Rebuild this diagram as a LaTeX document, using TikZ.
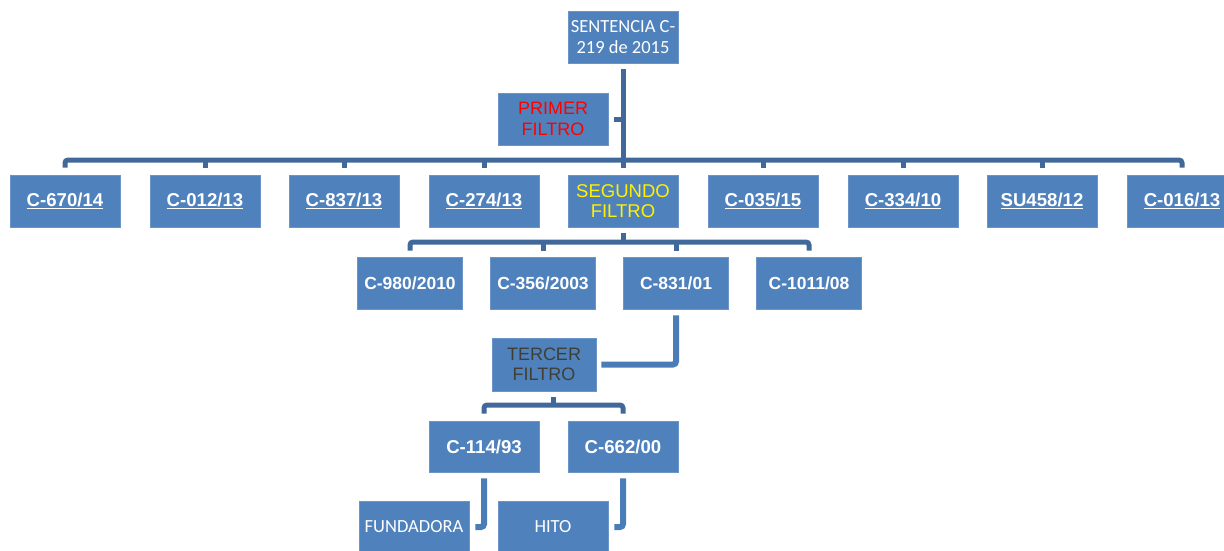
\documentclass[tikz,border=0pt]{standalone}
\usepackage{fontspec}
\setmainfont{Liberation Sans}
\newfontfamily\calib{Carlito}
\usetikzlibrary{calc}
\definecolor{boxfill}{HTML}{4F81BD}
\definecolor{boxline}{HTML}{6B95C8}
\definecolor{barcol}{HTML}{41689A}
\definecolor{elbowcol}{HTML}{4A7CB8}
\definecolor{tercercol}{HTML}{3F3F36}
\newcommand\myul[1]{\setbox0\hbox{#1}\rlap{\rule[-2.8pt]{\wd0}{1.4pt}}\box0}
\tikzset{
  box/.style={rectangle, fill=boxfill, draw=boxline, line width=0.6pt,
    minimum width=110pt, minimum height=52pt, inner sep=0pt, align=center,
    text=white, font=\fontsize{18}{20.5}\selectfont},
  boxn/.style={box, minimum width=105pt, font=\fontsize{17.5}{20}\selectfont\bfseries},
  code/.style={font=\fontsize{18.6}{20.5}\selectfont\bfseries},
  bar/.style={draw=barcol, line width=5pt},
  elbow/.style={draw=elbowcol, line width=6pt, rounded corners=3pt}
}
\begin{document}
\begin{tikzpicture}[x=1pt,y=-1pt]
\useasboundingbox (0,0) rectangle (1224,550);
% nodes
\node[box, font=\calib\fontsize{18.5}{20.5}\selectfont] (top) at (623,37) {SENTENCIA C-\\219 de 2015};
\node[box, text=red] (primer) at (553,119) {PRIMER\\FILTRO};
\node[box, code] (c1) at (65,201) {\myul{C-670/14}};
\node[box, code] (c2) at (205,201) {\myul{C-012/13}};
\node[box, code] (c3) at (344,201) {\myul{C-837/13}};
\node[box, code] (c4) at (484,201) {\myul{C-274/13}};
\node[box, text=yellow, font=\fontsize{18.5}{20.5}\selectfont] (seg) at (623,201) {SEGUNDO\\FILTRO};
\node[box, code] (c6) at (763,201) {\myul{C-035/15}};
\node[box, code] (c7) at (903,201) {\myul{C-334/10}};
\node[box, code] (c8) at (1042,201) {\myul{SU458/12}};
\node[box, code] (c9) at (1182,201) {\myul{C-016/13}};
\node[boxn] (d1) at (410,283) {C-980/2010};
\node[boxn] (d2) at (543,283) {C-356/2003};
\node[boxn] (d3) at (676,283) {C-831/01};
\node[boxn] (d4) at (809,283) {C-1011/08};
\node[box, minimum width=104pt, minimum height=53pt, text=tercercol] (tercer) at (544,364.5) {TERCER\\FILTRO};
\node[box, code, minimum height=51pt] (e1) at (484,446.5) {C-114/93};
\node[box, code, minimum height=51pt] (e2) at (623,446.5) {C-662/00};
\node[box, font=\calib\fontsize{18.5}{20.5}\selectfont] (fund) at (414,527) {FUNDADORA};
\node[box, font=\calib\fontsize{18.5}{20.5}\selectfont] (hito) at (553,527) {HITO};
% bar coordinates
\coordinate (b1) at (0,160);
\coordinate (b2) at (0,242);
\coordinate (b3) at (0,405);
% first level
\draw[bar] ($(top.south)+(0,6)$) -- ($(seg.north)+(0,-7)$);
\draw[bar] ($(primer.east)+(6,0)$) -- (primer.east -| top.south);
\draw[bar, rounded corners=3pt] ($(c1.north)+(0,-7)$) |- (b1 -| c9.north) -- ($(c9.north)+(0,-7)$);
\foreach \n in {c2,c3,c4,c6,c7,c8}
  \draw[bar] ($(\n.north)+(0,-7)$) -- (\n.north |- b1);
% second level
\draw[bar] ($(seg.south)+(0,6)$) -- (seg.south |- b2);
\draw[bar, rounded corners=3pt] ($(d1.north)+(0,-6)$) |- (b2 -| d4.north) -- ($(d4.north)+(0,-6)$);
\foreach \n in {d2,d3}
  \draw[bar] ($(\n.north)+(0,-6)$) -- (\n.north |- b2);
\draw[elbow] ($(d3.south)+(0,6)$) |- ($(tercer.east)+(5,0)$);
% third level
\coordinate (m3) at ($(e1.north)!0.5!(e2.north)$);
\draw[bar] (m3 |- tercer.south) ++(0,6) -- (m3 |- b3);
\draw[bar, rounded corners=3pt] ($(e1.north)+(0,-7)$) |- (b3 -| e2.north) -- ($(e2.north)+(0,-7)$);
\draw[elbow] ($(e1.south)+(0,6)$) |- ($(fund.east)+(6,0)$);
\draw[elbow] ($(e2.south)+(0,6)$) |- ($(hito.east)+(6,0)$);
\end{tikzpicture}
\end{document}
